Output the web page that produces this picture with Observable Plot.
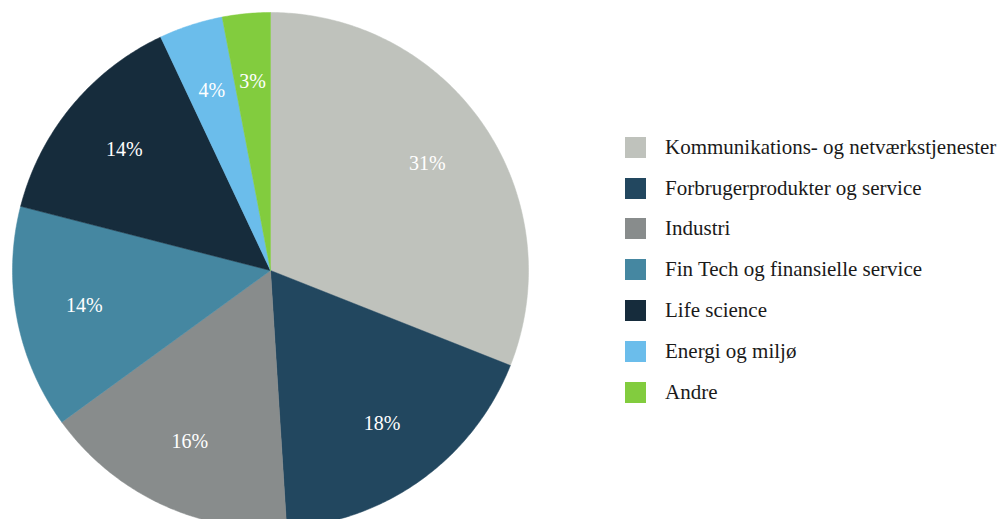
<!DOCTYPE html>
<html>
<head>
<meta charset="utf-8">
<script src="https://cdn.jsdelivr.net/npm/d3@7"></script>
<script src="https://cdn.jsdelivr.net/npm/@observablehq/plot@0.6"></script>
<style>
  html, body { margin: 0; padding: 0; background: #fff; }
  #wrap { position: relative; width: 1003px; height: 519px; overflow: hidden; }
  #legend { position: absolute; left: 625px; top: 127px; font-family: "Liberation Serif", Tinos, "Times New Roman", "DejaVu Serif", serif; font-size: 21px; color: #1a1a1a; white-space: nowrap; }
  .row { display: flex; align-items: center; height: 40.8px; }
  .sw { width: 21px; height: 21px; margin-right: 19px; flex: none; }
</style>
</head>
<body>
<div id="wrap"></div>
<script>
const categories = [
  "Kommunikations- og netværkstjenester",
  "Forbrugerprodukter og service",
  "Industri",
  "Fin Tech og finansielle service",
  "Life science",
  "Energi og miljø",
  "Andre"
];
const shares = [31, 18, 16, 14, 14, 4, 3];
const labels = ["31%", "18%", "16%", "14%", "14%", "4%", "3%"];
const colors = ["#BFC2BC", "#22475F", "#888C8C", "#4587A1", "#162C3C", "#6BBDEB", "#82CC3E"];

const serif = "'Liberation Serif', Tinos, 'Times New Roman', 'DejaVu Serif', serif";

const pie = d3.pie().sort(null).value(d => d.value)(categories.map((c, i) => ({cat: c, value: shares[i], label: labels[i]})));
const polyPts = [];
const labelPts = [];
for (const s of pie) {
  const a0 = s.startAngle, a1 = s.endAngle;
  const n = Math.max(4, Math.ceil((a1 - a0) / 0.01));
  polyPts.push({cat: s.data.cat, x: 0, y: 0});
  for (let k = 0; k <= n; k++) {
    const a = a0 + (a1 - a0) * k / n;
    polyPts.push({cat: s.data.cat, x: Math.sin(a), y: Math.cos(a)});
  }
  polyPts.push({cat: s.data.cat, x: 0, y: 0});
  const am = (a0 + a1) / 2;
  const rl = 0.735;
  labelPts.push({label: s.data.label, x: rl * Math.sin(am), y: rl * Math.cos(am)});
}

const plot = Plot.plot({
  width: 1003,
  height: 519,
  margin: 0,
  x: {domain: [-1, 1], range: [12, 528], axis: null},
  y: {domain: [-1, 1], range: [528, 12], axis: null},
  color: {domain: categories, range: colors},
  style: {fontFamily: serif, overflow: "hidden", background: "#fff"},
  marks: [
    Plot.line(polyPts, {x: "x", y: "y", z: "cat", fill: "cat", stroke: "cat", strokeWidth: 0.5, curve: "linear"}),
    Plot.text(labelPts, {x: "x", y: "y", text: "label", fill: "white", fontSize: 20, fontFamily: serif})
  ]
});
document.getElementById("wrap").appendChild(plot);

const color = plot.scale("color");
const cmap = d3.scaleOrdinal(color.domain, color.range);
const legend = document.createElement("div");
legend.id = "legend";
categories.forEach(c => {
  const row = document.createElement("div");
  row.className = "row";
  const sw = document.createElement("div");
  sw.className = "sw";
  sw.style.background = cmap(c);
  const t = document.createElement("span");
  t.textContent = c;
  row.appendChild(sw); row.appendChild(t);
  legend.appendChild(row);
});
document.getElementById("wrap").appendChild(legend);
</script>
</body>
</html>
